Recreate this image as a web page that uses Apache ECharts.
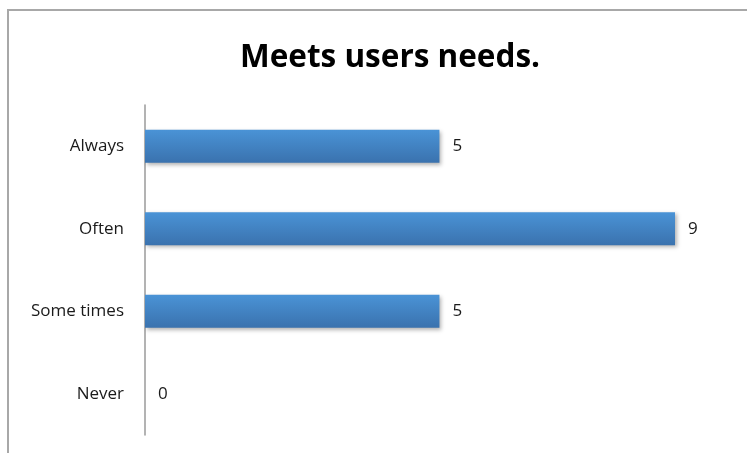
<!DOCTYPE html>
<html>
<head>
<meta charset="utf-8">
<script src="https://cdn.jsdelivr.net/npm/echarts@6/dist/echarts.min.js"></script>
<style>
html,body{margin:0;padding:0;background:#fff;}
#chart{width:747px;height:453px;}
</style>
</head>
<body>
<div id="chart"></div>
<script>
// Survey answers, listed bottom to top as the category axis draws them
const categories = ['Never', 'Some times', 'Often', 'Always'];
const responses = [0, 5, 9, 5];
const chartTitle = 'Meets users needs.';

const chart = echarts.init(document.getElementById('chart'));
const font = '"Open Sans", "Liberation Sans", sans-serif';

chart.setOption({
  animation: false,
  backgroundColor: '#fff',
  title: {
    text: chartTitle,
    left: 385,
    textAlign: 'center',
    top: 37,
    textStyle: { fontFamily: font, fontWeight: 'bold', fontSize: 31.5, color: '#000' }
  },
  graphic: [{
    type: 'rect',
    shape: { x: 8, y: 10, width: 760, height: 470 },
    style: { fill: 'none', stroke: '#a8a8a8', lineWidth: 2 },
    silent: true
  }],
  grid: { left: 145, right: 72, top: 105, bottom: 18 },
  xAxis: {
    type: 'value',
    min: 0,
    max: 9,
    show: false
  },
  yAxis: {
    type: 'category',
    data: categories,
    axisLine: { show: true, lineStyle: { color: '#9a9a9a', width: 1.5 } },
    axisTick: { show: false },
    axisLabel: { margin: 21, fontFamily: font, fontSize: 17, color: '#1a1a1a', padding: [4, 0, 0, 0] },
    splitLine: { show: false }
  },
  series: [{
    type: 'bar',
    data: responses,
    barWidth: '40%',
    itemStyle: {
      color: new echarts.graphic.LinearGradient(0, 0, 0, 1, [
        { offset: 0, color: '#4a93d6' },
        { offset: 1, color: '#3a72ae' }
      ]),
      shadowColor: 'rgba(0,0,0,0.3)',
      shadowBlur: 4,
      shadowOffsetX: 2,
      shadowOffsetY: 2
    },
    label: {
      show: true,
      position: 'right',
      distance: 13,
      fontFamily: font,
      fontSize: 17,
      color: '#1a1a1a',
      padding: [4, 0, 0, 0]
    }
  }]
});
</script>
</body>
</html>
